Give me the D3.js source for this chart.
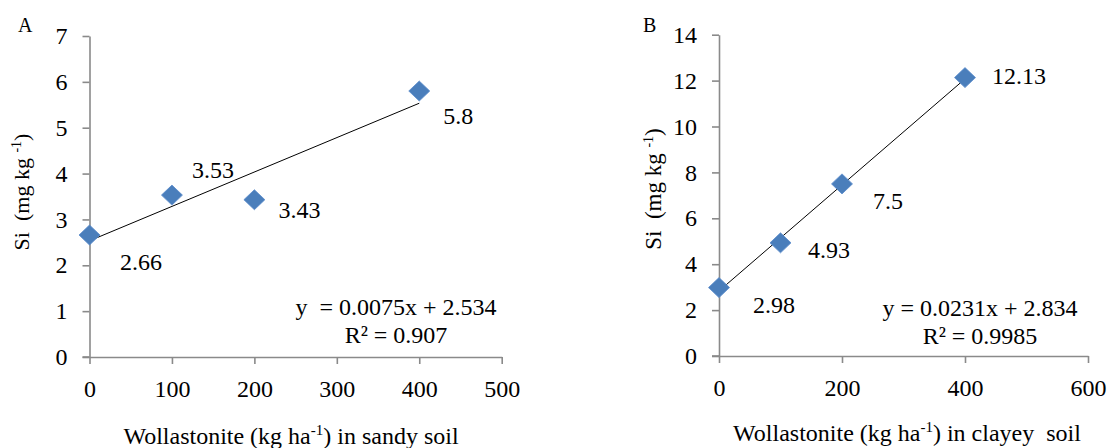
<!DOCTYPE html>
<html><head><meta charset="utf-8">
<script src="https://cdn.jsdelivr.net/npm/d3@7"></script>
<style>
html,body{margin:0;padding:0;background:#fff;}
svg text{font-family:"Liberation Serif","Times New Roman",Times,serif !important;white-space:pre;}
</style></head>
<body>
<svg id="c" width="1110" height="448"></svg>
<script>
// ---- data ----
const doseA = [0, 100, 200, 400];
const siA = [2.66, 3.53, 3.43, 5.8];
const labelsA = ["2.66", "3.53", "3.43", "5.8"];
const fitA = {slope: 0.0075, intercept: 2.534};
const eqA = ["y  = 0.0075x + 2.534", "R² = 0.907"];
const xTicksA = [0, 100, 200, 300, 400, 500];
const yTicksA = [0, 1, 2, 3, 4, 5, 6, 7];

const doseB = [0, 100, 200, 400];
const siB = [2.98, 4.93, 7.5, 12.13];
const labelsB = ["2.98", "4.93", "7.5", "12.13"];
const fitB = {slope: 0.0231, intercept: 2.834};
const eqB = ["y = 0.0231x + 2.834", "R² = 0.9985"];
const xTicksB = [0, 200, 400, 600];
const yTicksB = [0, 2, 4, 6, 8, 10, 12, 14];

// ---- layout (pixels) ----
const layoutA = {
  letter: "A", letterPos: [18, 32],
  x0: 89.5, x1: 501.7, y0: 357, y1: 36,
  xTitle: "in sandy soil", xTitleX: 291, titleY: 444,
  yTitleX: 28.5, yTitleY: 192, yTitleFS: 22,
  labelOff: [[30.5, 35], [20, -17], [24, 18], [24, 33]],
  eqX: 396, eqY: [315, 342.5]
};
const layoutB = {
  letter: "B", letterPos: [643, 32],
  x0: 719, x1: 1088, y0: 356, y1: 34.7,
  xTitle: "in clayey  soil", xTitleX: 907, titleY: 441,
  yTitleX: 661, yTitleY: 189, yTitleFS: 23,
  labelOff: [[34, 25], [27.5, 15], [31, 25], [27, 6.5]],
  eqX: 980, eqY: [316, 344]
};

const svg = d3.select("#c");
const AXIS = "#8a8a8a";
const FONT = "Liberation Serif";
const FS = 24;

function panel(L, xs, ys, labels, fit, eq, xTicks, yTicks) {
  const x = d3.scaleLinear().domain([xTicks[0], xTicks[xTicks.length-1]]).range([L.x0, L.x1]);
  const y = d3.scaleLinear().domain([yTicks[0], yTicks[yTicks.length-1]]).range([L.y0, L.y1]);
  const g = svg.append("g");

  const xa = g.append("g").attr("transform", `translate(0,${L.y0})`)
    .call(d3.axisBottom(x).tickValues(xTicks).tickSize(7).tickSizeOuter(0).tickPadding(16).tickFormat(d3.format("d")));
  const ya = g.append("g").attr("transform", `translate(${L.x0},0)`)
    .call(d3.axisLeft(y).tickValues(yTicks).tickSize(7).tickSizeOuter(0).tickPadding(15).tickFormat(d3.format("d")));
  [xa, ya].forEach(a => {
    a.attr("font-family", FONT).attr("font-size", FS);
    a.selectAll("path.domain").attr("stroke", AXIS).attr("stroke-width", 1.6);
    a.selectAll(".tick line").attr("stroke", AXIS).attr("stroke-width", 1.6);
    a.selectAll(".tick text").attr("fill", "#000");
  });
  g.append("line").attr("x1", L.x0 - 7).attr("x2", L.x0).attr("y1", L.y0).attr("y2", L.y0)
    .attr("stroke", AXIS).attr("stroke-width", 1.6);

  // trendline
  const xmax = d3.max(xs);
  g.append("line")
    .attr("x1", x(0)).attr("y1", y(fit.intercept))
    .attr("x2", x(xmax)).attr("y2", y(fit.slope * xmax + fit.intercept))
    .attr("stroke", "#000").attr("stroke-width", 1);

  // markers
  const pts = xs.map((d, i) => ({x: d, y: ys[i], lab: labels[i], off: L.labelOff[i]}));
  g.selectAll("path.m").data(pts).enter().append("path")
    .attr("d", d => { const cx = x(d.x), cy = y(d.y), w = 10.5, h = 10;
      return `M${cx},${cy-h}L${cx+w},${cy}L${cx},${cy+h}L${cx-w},${cy}Z`; })
    .attr("fill", "#4a7ebb").attr("stroke", "#5a8ccb").attr("stroke-width", 0.8);

  g.selectAll("text.lab").data(pts).enter().append("text")
    .attr("x", d => x(d.x) + d.off[0]).attr("y", d => y(d.y) + d.off[1])
    .attr("font-size", FS).text(d => d.lab);

  eq.forEach((s, i) => g.append("text").attr("x", L.eqX).attr("y", L.eqY[i])
    .attr("text-anchor", "middle").attr("font-size", FS).text(s));

  g.append("text").attr("x", L.letterPos[0]).attr("y", L.letterPos[1])
    .attr("font-size", 20).text(L.letter);

  const xt = g.append("text").attr("x", L.xTitleX).attr("y", L.titleY)
    .attr("text-anchor", "middle").attr("font-size", 24);
  xt.append("tspan").text("Wollastonite (kg ha");
  xt.append("tspan").attr("dy", -9).attr("font-size", 15).text("-1");
  xt.append("tspan").attr("dy", 9).text(") " + L.xTitle);

  const yt = g.append("text").attr("transform", `translate(${L.yTitleX},${L.yTitleY}) rotate(-90)`)
    .attr("text-anchor", "middle").attr("font-size", L.yTitleFS);
  yt.append("tspan").text("Si  (mg kg ");
  yt.append("tspan").attr("dy", -8).attr("font-size", 14).text("-1");
  yt.append("tspan").attr("dy", 8).text(")");
}

panel(layoutA, doseA, siA, labelsA, fitA, eqA, xTicksA, yTicksA);
panel(layoutB, doseB, siB, labelsB, fitB, eqB, xTicksB, yTicksB);
</script>
</body></html>
